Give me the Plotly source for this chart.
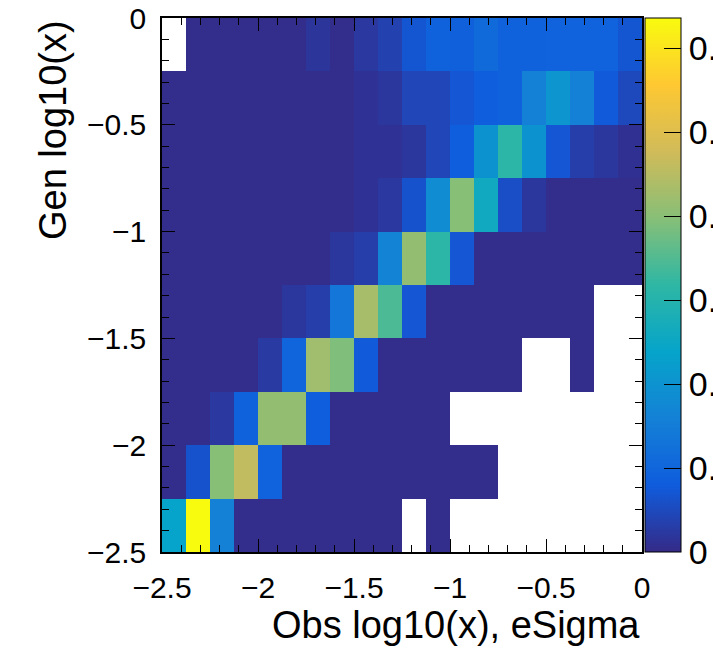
import plotly.graph_objects as go

# bin centers
x_centers = [-2.4375 + 0.125 * i for i in range(20)]
y_centers = [-2.375 + 0.25 * j for j in range(10)]

n = 0.002  # tiny filled bin
N = None   # empty bin

# rows from bottom (y=-2.5..-2.25) to top (y=-0.25..0)
row_m2p375 = [0.119, 0.318, 0.079, n, n, n, n, n, n, n, N, n, N, N, N, N, N, N, N, N]
row_m2p125 = [n, 0.032, 0.199, 0.230, 0.047, n, n, n, n, n, n, n, n, n, N, N, N, N, N, N]
row_m1p875 = [n, n, 0.011, 0.045, 0.205, 0.205, 0.042, n, n, n, n, n, N, N, N, N, N, N, N, N]
row_m1p625 = [n, n, n, n, 0.013, 0.048, 0.212, 0.195, 0.038, n, n, n, n, n, n, N, N, n, N, N]
row_m1p375 = [n, n, n, n, n, 0.010, 0.016, 0.068, 0.216, 0.172, 0.035, n, n, n, n, n, n, n, N, N]
row_m1p125 = [n, n, n, n, n, n, n, 0.010, 0.016, 0.083, 0.205, 0.156, 0.035, n, n, n, n, n, n, n]
row_m0p875 = [n, n, n, n, n, n, n, n, 0.006, 0.011, 0.032, 0.092, 0.199, 0.130, 0.029, 0.010, n, n, n, n]
row_m0p625 = [n, n, n, n, n, n, n, n, 0.006, 0.006, 0.010, 0.022, 0.042, 0.099, 0.156, 0.099, 0.035, 0.016, 0.010, 0.005]
row_m0p375 = [n, n, n, n, n, n, n, n, 0.006, 0.010, 0.022, 0.022, 0.035, 0.042, 0.046, 0.079, 0.102, 0.079, 0.038, 0.025]
row_m0p125 = [N, n, n, n, n, n, 0.009, n, 0.011, 0.019, 0.034, 0.045, 0.044, 0.055, 0.045, 0.045, 0.047, 0.047, 0.047, 0.034]

z = [row_m2p375, row_m2p125, row_m1p875, row_m1p625, row_m1p375,
     row_m1p125, row_m0p875, row_m0p625, row_m0p375, row_m0p125]

z_max = 0.318

# ROOT kBird palette
stops = [0.0, 0.125, 0.25, 0.375, 0.5, 0.625, 0.75, 0.875, 1.0]
red = [0.2082, 0.0592, 0.0780, 0.0232, 0.1802, 0.5301, 0.8186, 0.9956, 0.9764]
green = [0.1664, 0.3599, 0.5041, 0.6419, 0.7178, 0.7492, 0.7328, 0.7862, 0.9832]
blue = [0.5293, 0.8684, 0.8385, 0.7914, 0.6425, 0.4662, 0.3499, 0.1968, 0.0539]
colorscale = [[s, "rgb(%d,%d,%d)" % (round(r * 255), round(g * 255), round(b * 255))]
              for s, r, g, b in zip(stops, red, green, blue)]

FONT = "Liberation Sans, Arial, Helvetica, sans-serif"
TICK_SIZE = 30
CBAR_TICK_SIZE = 34
TITLE_SIZE = 38

fig = go.Figure(go.Heatmap(
    x=x_centers, y=y_centers, z=z,
    zmin=0, zmax=z_max, zsmooth=False,
    colorscale=colorscale, hoverongaps=False,
    colorbar=dict(
        x=1.00625, xanchor="left", xref="paper",
        y=0.5, yanchor="middle", len=1, lenmode="fraction",
        thickness=36, thicknessmode="pixels",
        xpad=0, ypad=0,
        outlinewidth=1, outlinecolor="black",
        ticks="inside", ticklen=17, tickcolor="black", tickwidth=1,
        tick0=0, dtick=0.05,
        tickfont=dict(family=FONT, size=CBAR_TICK_SIZE, color="black"),
    ),
))

axis_common = dict(
    showgrid=False, zeroline=False,
    showline=True, linecolor="black", linewidth=1.5, mirror="ticks",
    ticks="inside", ticklen=13, tickwidth=1, tickcolor="black",
    tick0=0, dtick=0.5,
    minor=dict(ticks="inside", ticklen=7, dtick=0.1, tick0=0, tickcolor="black", tickwidth=1),
    tickfont=dict(family=FONT, size=TICK_SIZE, color="black"),
)

fig.update_xaxes(range=[-2.5, 0], ticklabelstandoff=8, **axis_common)
fig.update_yaxes(range=[-2.5, 0], ticklabelstandoff=8, **axis_common)

fig.update_layout(
    width=713, height=649,
    margin=dict(l=162, r=71, t=18, b=97, autoexpand=False),
    paper_bgcolor="white", plot_bgcolor="white",
    font=dict(family=FONT, color="black"),
    annotations=[
        dict(text="Obs log10(x), eSigma", xref="paper", yref="paper",
             x=1, y=-0.093, xanchor="right", yanchor="top", showarrow=False,
             font=dict(family=FONT, size=TITLE_SIZE, color="black")),
        dict(text="Gen log10(x)", xref="paper", yref="paper",
             x=-0.227, y=1, xanchor="center", yanchor="top", textangle=-90,
             showarrow=False,
             font=dict(family=FONT, size=TITLE_SIZE, color="black")),
    ],
)

fig.write_html("out.html")
